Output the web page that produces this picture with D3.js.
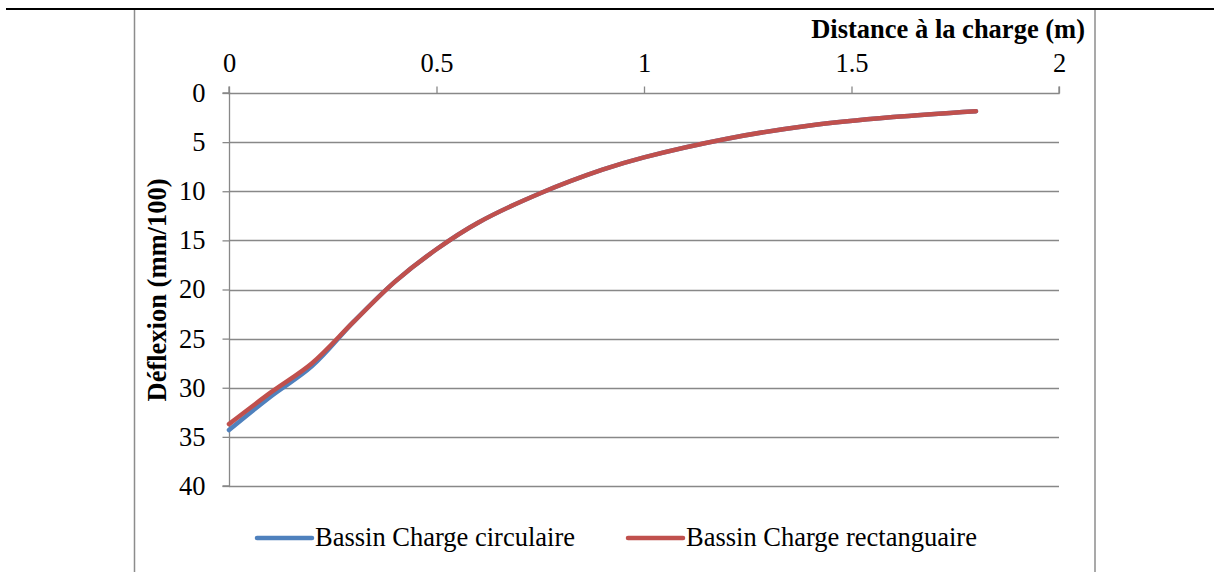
<!DOCTYPE html>
<html><head><meta charset="utf-8">
<script src="https://cdn.jsdelivr.net/npm/d3@7"></script>
<style>html,body{margin:0;padding:0;background:#fff;}svg{display:block;}</style>
</head><body>
<script>
const distances = [0, 0.1, 0.2, 0.3, 0.4, 0.5, 0.6, 0.75, 0.9, 1.0, 1.2, 1.4, 1.6, 1.8];
const circulaire = [34.3, 30.9, 27.8, 23.3, 19.2, 15.9, 13.2, 10.2, 7.8, 6.55, 4.65, 3.3, 2.45, 1.85];
const rectangulaire = [33.7, 30.5, 27.5, 23.3, 19.2, 15.9, 13.2, 10.2, 7.8, 6.55, 4.65, 3.3, 2.45, 1.85];
const xTicks = [0, 0.5, 1, 1.5, 2];
const yTicks = [0, 5, 10, 15, 20, 25, 30, 35, 40];
const seriesNames = ["Bassin Charge circulaire", "Bassin Charge rectanguaire"];
const seriesColors = ["#4F81BD", "#C0504D"];
const xTitle = "Distance à la charge (m)";
const yTitle = "Déflexion (mm/100)";

const W = 1220, H = 572;
const svg = d3.select("body").append("svg").attr("width", W).attr("height", H);
const font = "'Liberation Serif','Times New Roman',serif";
const fs = "26.5px";

// frame
svg.append("line").attr("x1", 6).attr("x2", 1214).attr("y1", 9).attr("y2", 9)
  .attr("stroke", "#000").attr("stroke-width", 2);
svg.append("line").attr("x1", 134.5).attr("x2", 134.5).attr("y1", 10).attr("y2", H)
  .attr("stroke", "#8c8c8c").attr("stroke-width", 1.5);
svg.append("line").attr("x1", 1095).attr("x2", 1095).attr("y1", 10).attr("y2", H)
  .attr("stroke", "#8c8c8c").attr("stroke-width", 1.5);

const x = d3.scaleLinear().domain([0, 2]).range([229, 1059]);
const y = d3.scaleLinear().domain([0, 40]).range([93, 486]);
const gridColor = "#888";

// gridlines
svg.append("g").selectAll("line").data(yTicks.slice(1)).join("line")
  .attr("x1", x(0)).attr("x2", x(2)).attr("y1", d => Math.round(y(d)) + 0.5).attr("y2", d => Math.round(y(d)) + 0.5)
  .attr("stroke", gridColor).attr("stroke-width", 1.3);

// x axis (top)
const xAxis = svg.append("g").attr("transform", `translate(0,${Math.round(y(0)) + 0.5})`)
  .call(d3.axisTop(x).tickValues(xTicks).tickSize(7).tickPadding(15).tickFormat(d3.format("")));
// y axis (left)
const yAxis = svg.append("g").attr("transform", `translate(${Math.round(x(0)) + 0.5},0)`)
  .call(d3.axisLeft(y).tickValues(yTicks).tickSize(7).tickPadding(17).tickFormat(d3.format("")));
[xAxis, yAxis].forEach(g => {
  g.attr("font-size", fs).attr("font-family", font);
  g.select(".domain").attr("stroke", gridColor).attr("stroke-width", 1.3);
  g.selectAll(".tick line").attr("stroke", gridColor).attr("stroke-width", 1.3);
  g.selectAll("text").attr("fill", "#000").style("font-family", font).style("font-size", fs);
});
xAxis.select(".domain").attr("d", `M${x(0)},-7V0H${x(2)}V-7`);
yAxis.select(".domain").attr("d", `M-7,${y(0)}H0V${y(40)}H-7`);

// lines
const seriesData = [circulaire, rectangulaire];
const line = d3.line().x(d => x(d[0])).y(d => y(d[1])).curve(d3.curveCatmullRom.alpha(0.5));
seriesData.forEach((vals, i) => {
  svg.append("path").datum(distances.map((d, j) => [d, vals[j]]))
    .attr("d", line).attr("fill", "none").attr("stroke", seriesColors[i])
    .attr("stroke-width", 4.5).attr("stroke-linecap", "round").attr("stroke-linejoin", "round");
});

// titles
svg.append("text").attr("x", 1085).attr("y", 38).attr("text-anchor", "end")
  .style("font-family", font).style("font-size", fs).style("font-weight", "bold").text(xTitle);
svg.append("text").attr("transform", "translate(166,290) rotate(-90)").attr("text-anchor", "middle")
  .style("font-family", font).style("font-size", fs).style("font-weight", "bold").text(yTitle);

// legend
const legendX = [257, 628];
seriesNames.forEach((n, i) => {
  svg.append("line").attr("x1", legendX[i]).attr("x2", legendX[i] + 55).attr("y1", 538).attr("y2", 538)
    .attr("stroke", seriesColors[i]).attr("stroke-width", 4.5).attr("stroke-linecap", "round");
  svg.append("text").attr("x", legendX[i] + 58).attr("y", 546)
    .style("font-family", font).style("font-size", fs).attr("fill", "#000").text(n);
});
</script>
</body></html>
